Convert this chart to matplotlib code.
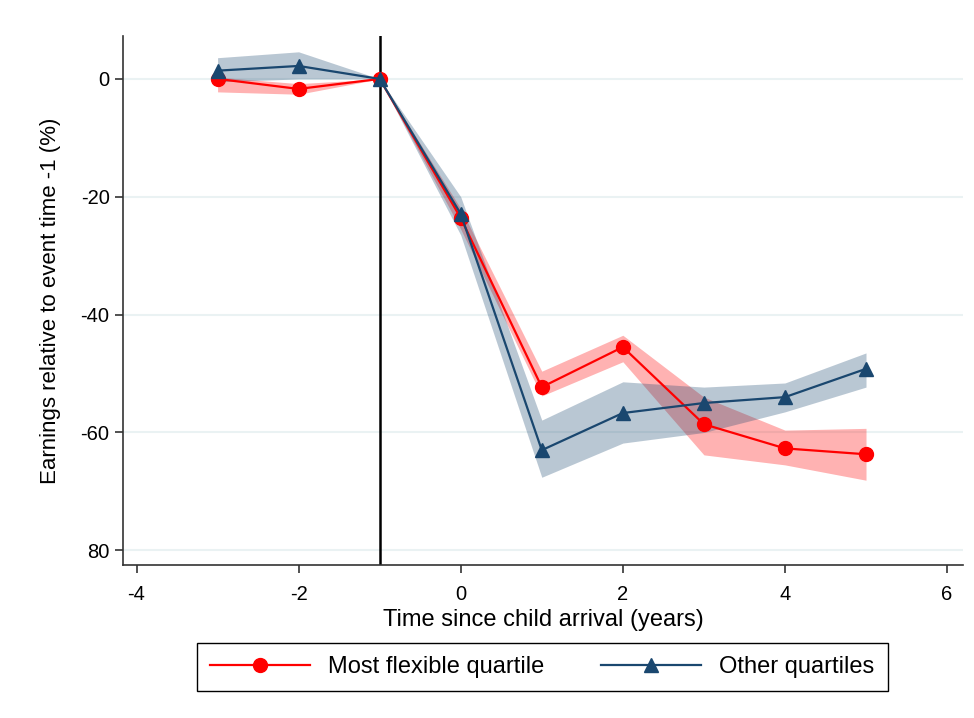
import numpy as np
import matplotlib.pyplot as plt

plt.rcParams['font.family'] = ['Liberation Sans', 'DejaVu Sans']
plt.rcParams['axes.unicode_minus'] = False

# event time (years since child arrival)
years = [-3, -2, -1, 0, 1, 2, 3, 4, 5]

# most flexible quartile
flex = [0.0, -1.7, 0.0, -23.6, -52.3, -45.5, -58.6, -62.7, -63.7]
flex_hi = [0.3, -0.8, 0.0, -22.0, -49.6, -43.5, -54.0, -59.6, -59.3]
flex_lo = [-2.2, -2.6, 0.0, -25.5, -53.8, -48.0, -63.8, -65.5, -68.1]

# other quartiles
other = [1.4, 2.2, 0.0, -22.9, -63.0, -56.7, -55.0, -54.0, -49.2]
other_hi = [3.6, 4.6, 0.0, -20.0, -57.9, -51.4, -52.3, -51.6, -46.5]
other_lo = [-0.5, 0.0, 0.0, -26.5, -67.6, -61.8, -60.0, -56.5, -52.3]

yticks = [-80, -60, -40, -20, 0]
ytick_labels = ['80', '-60', '-40', '-20', '0']
xticks = [-4, -2, 0, 2, 4, 6]

red = '#FF0000'
navy = '#1A476F'

fig = plt.figure(figsize=(9.74, 7.18), dpi=100)
ax = fig.add_axes([0.126, 0.213, 0.863, 0.737])

for y in yticks:
    ax.axhline(y, color='#EAF2F3', lw=1.5, zorder=0)

ax.fill_between(years, flex_lo, flex_hi, color=red, alpha=0.3, lw=0, zorder=1)
ax.fill_between(years, other_lo, other_hi, color=navy, alpha=0.3, lw=0, zorder=1)

ax.axvline(-1, color='black', lw=1.8, zorder=2)

ax.plot(years, flex, color=red, lw=1.6, marker='o', ms=10,
        label='Most flexible quartile', zorder=3)
ax.plot(years, other, color=navy, lw=1.6, marker='^', ms=10,
        label='Other quartiles', zorder=4)

ax.set_xlim(-4.17, 6.2)
ax.set_ylim(-82.5, 7.3)
ax.set_yticks(yticks)
ax.set_yticklabels(ytick_labels)
ax.set_xticks(xticks)

ax.spines['top'].set_visible(False)
ax.spines['right'].set_visible(False)
for s in ['left', 'bottom']:
    ax.spines[s].set_color('#333333')
    ax.spines[s].set_linewidth(1.2)
ax.tick_params(axis='both', labelsize=14.5, length=6, width=1.2, color='#333333')
ax.tick_params(axis='x', pad=8)

ax.set_xlabel('Time since child arrival (years)', fontsize=17, labelpad=4)
ax.set_ylabel('Earnings relative to event time -1 (%)', fontsize=16, labelpad=14)

fig.legend(loc='center', bbox_to_anchor=(0.557, 0.071), ncol=2, fontsize=17,
           fancybox=False, edgecolor='black', framealpha=1, columnspacing=2.4,
           handlelength=4.2, borderpad=0.55, handletextpad=0.8, borderaxespad=0)

fig.savefig('out.png', dpi=100)
